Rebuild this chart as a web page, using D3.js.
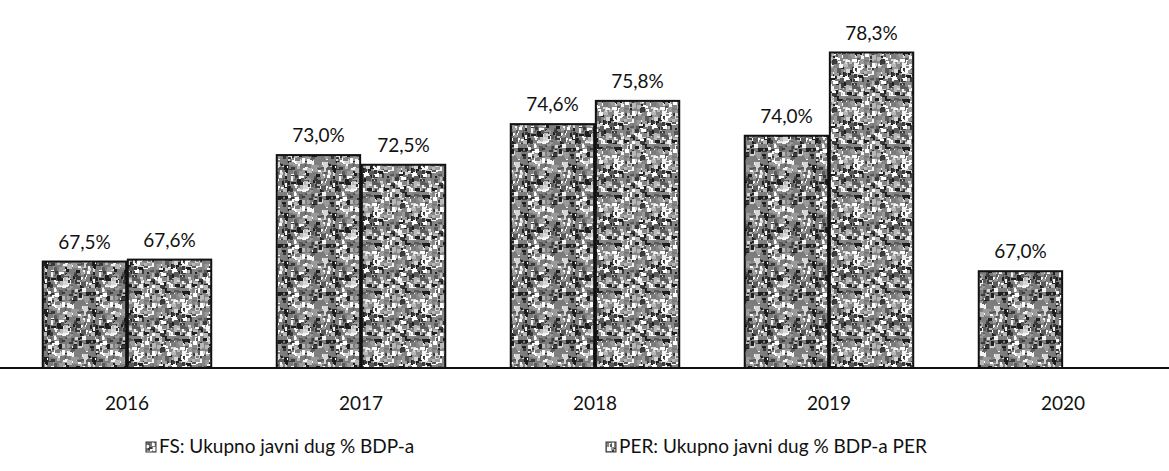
<!DOCTYPE html>
<html><head><meta charset="utf-8">
<script src="https://cdn.jsdelivr.net/npm/d3@7"></script>
<style>body{margin:0;background:#fff}svg{display:block}</style>
</head><body>
<svg id="c" width="1169" height="471"></svg>
<script>
const years = ["2016","2017","2018","2019","2020"];
const seriesNames = ["FS: Ukupno javni dug % BDP-a","PER: Ukupno javni dug % BDP-a PER"];
const fsValues = [67.5, 73.0, 74.6, 74.0, 67.0];
const perValues = [67.6, 72.5, 75.8, 78.3, null];
const fmt = v => v.toFixed(1).replace(".", ",") + "%";

const svg = d3.select("#c");
const font = "Lato, 'Open Sans', sans-serif";
const baseY = 368;

// mottled texture patterns (purely decorative)
const defs = svg.append("defs");
const greys = ["#1e1e1e","#3a3a3a","#5a5a5a","#7a7a7a","#9a9a9a","#b8b8b8","#d6d6d6","#f4f4f4","#ffffff"];
function makePattern(id, seed, base) {
  const size = 48;
  const p = defs.append("pattern").attr("id", id).attr("patternUnits","userSpaceOnUse")
    .attr("width", size).attr("height", size);
  p.append("rect").attr("width", size).attr("height", size).attr("fill", base);
  let s = seed;
  const rnd = () => { s = (s * 1103515245 + 12345) % 2147483648; return s / 2147483648; };
  for (let i = 0; i < 260; i++) {
    const w = 2 + Math.floor(rnd() * 4);
    p.append("rect")
      .attr("x", Math.floor(rnd() * size)).attr("y", Math.floor(rnd() * size))
      .attr("width", w).attr("height", 2 + Math.floor(rnd() * 4))
      .attr("fill", greys[Math.floor(rnd() * greys.length)]);
  }
}
makePattern("tex", 7, "#7e7e7e");
makePattern("tex2", 91, "#858585");

const x0 = d3.scaleBand().domain(years).range([10, 1180]).paddingInner(0.28).paddingOuter(0.14);
const x1 = d3.scaleBand().domain([0,1]).range([0, x0.bandwidth()]).paddingInner(0.02);
const y = d3.scaleLinear().domain([62, 80]).range([baseY, 19.6]);

const data = [];
years.forEach((yr, i) => {
  [fsValues[i], perValues[i]].forEach((v, s) => { if (v != null) data.push({yr, s, v}); });
});

const g = svg.append("g");
g.selectAll("rect.bar").data(data).join("rect").attr("class","bar")
  .attr("x", d => x0(d.yr) + x1(d.s))
  .attr("y", d => y(d.v))
  .attr("width", x1.bandwidth())
  .attr("height", d => baseY - y(d.v))
  .attr("fill", d => d.s === 0 ? "url(#tex)" : "url(#tex2)")
  .attr("stroke", "#111").attr("stroke-width", 2);

g.selectAll("text.val").data(data).join("text").attr("class","val")
  .attr("x", d => x0(d.yr) + x1(d.s) + x1.bandwidth()/2)
  .attr("y", d => y(d.v) - 13)
  .attr("text-anchor","middle").attr("font-family",font).attr("font-size",19).attr("fill","#111")
  .text(d => fmt(d.v));

// axis
const ax = svg.append("g").attr("transform",`translate(0,${baseY})`)
  .call(d3.axisBottom(x0).tickSize(0).tickPadding(0));
ax.select(".domain").remove();
ax.append("line").attr("x1",0).attr("x2",1169).attr("y1",0).attr("y2",0).attr("stroke","#111").attr("stroke-width",2);
ax.selectAll(".tick text").attr("y", 42).attr("dy",0).attr("font-family",font).attr("font-size",19).attr("fill","#111");

// legend
const leg = svg.append("g");
const legX = [146, 606];
seriesNames.forEach((n, i) => {
  const lg = leg.append("g").attr("transform",`translate(${legX[i]},442)`);
  lg.append("rect").attr("x",0).attr("y",0).attr("width",10).attr("height",10)
    .attr("fill", i === 0 ? "url(#tex)" : "url(#tex2)").attr("stroke","#333").attr("stroke-width",1);
  lg.append("text").attr("x",13).attr("y",11).attr("font-family",font).attr("font-size",19).attr("fill","#111").text(n);
});
</script>
</body></html>
